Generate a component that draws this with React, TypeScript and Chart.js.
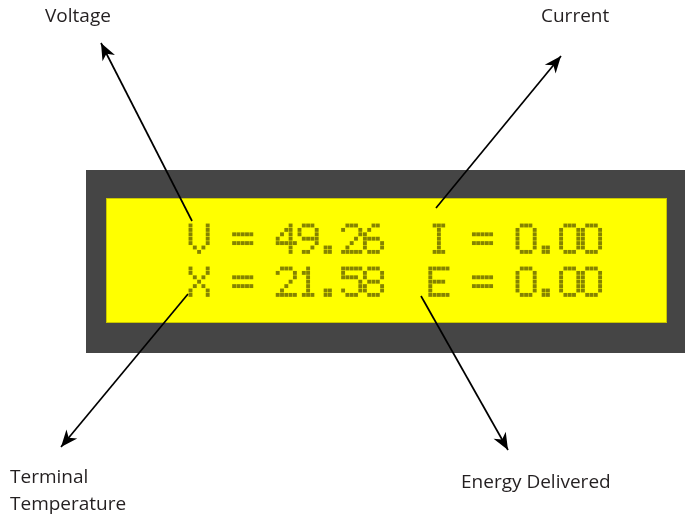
import React, { useEffect, useRef } from "react";
import { Chart, registerables } from "chart.js";

Chart.register(...registerables);

const WIDTH = 685;
const HEIGHT = 519;

// ---- content ----
const lcdLines = ["V = 49.26  I = 0.00", "X = 21.58  E = 0.00"];
const labelLines = [["Voltage"], ["Current"], ["Terminal", "Temperature"], ["Energy Delivered"]];
const labelAnchors = [[45, 22], [541, 22], [10, 483], [461, 488]];
const arrowStarts = [[192, 221], [436, 208], [188, 294], [421, 296]];
const arrowTips = [[101, 43], [561, 56], [61, 447], [508, 450]];
const frameBox = [86, 170, 690, 353];
const screenBox = [106, 198, 667, 323];

// 5x7 dot-matrix glyphs
const GLYPHS: Record<string, string[]> = {
  " ": ["00000", "00000", "00000", "00000", "00000", "00000", "00000"],
  V: ["10001", "10001", "10001", "10001", "10001", "01010", "00100"],
  X: ["10001", "10001", "01010", "00100", "01010", "10001", "10001"],
  I: ["01110", "00100", "00100", "00100", "00100", "00100", "01110"],
  E: ["11111", "10000", "10000", "11110", "10000", "10000", "11111"],
  "=": ["00000", "00000", "11111", "00000", "11111", "00000", "00000"],
  ".": ["00000", "00000", "00000", "00000", "00000", "01100", "01100"],
  "0": ["01110", "10001", "10001", "10001", "10001", "10001", "01110"],
  "1": ["00100", "01100", "00100", "00100", "00100", "00100", "01110"],
  "2": ["01110", "10001", "00001", "00010", "00100", "01000", "11111"],
  "4": ["00010", "00110", "01010", "10010", "11111", "00010", "00010"],
  "5": ["11111", "10000", "11110", "00001", "00001", "10001", "01110"],
  "6": ["00110", "01000", "10000", "11110", "10001", "10001", "01110"],
  "8": ["01110", "10001", "10001", "01110", "10001", "10001", "01110"],
  "9": ["01110", "10001", "10001", "01111", "00001", "00010", "01100"],
};

const LCD_X0 = 190.5;
const LCD_ROW_Y0 = [225.5, 268.5];
const CHAR_ADV = 21.8;
const DOT_PX = 4.3;
const DOT_PY = 4.4;

function lcdDots() {
  const pts: { x: number; y: number }[] = [];
  lcdLines.forEach((line, li) => {
    [...line].forEach((ch, ci) => {
      const g = GLYPHS[ch] || GLYPHS[" "];
      g.forEach((row, r) => {
        [...row].forEach((bit, c) => {
          if (bit === "1") {
            pts.push({ x: LCD_X0 + ci * CHAR_ADV + c * DOT_PX, y: LCD_ROW_Y0[li] + r * DOT_PY });
          }
        });
      });
    });
  });
  return pts;
}

const panelPlugin = {
  id: "panel",
  beforeDatasetsDraw(chart: any) {
    const { ctx, scales } = chart;
    const sx = scales.x, sy = scales.y;
    const rect = (b: number[], fill: string, stroke?: string) => {
      const x1 = sx.getPixelForValue(b[0]);
      const y1 = sy.getPixelForValue(b[1]);
      const x2 = sx.getPixelForValue(b[2]);
      const y2 = sy.getPixelForValue(b[3]);
      ctx.save();
      ctx.fillStyle = fill;
      ctx.fillRect(x1, y1, x2 - x1, y2 - y1);
      if (stroke) {
        ctx.strokeStyle = stroke;
        ctx.lineWidth = 1;
        ctx.strokeRect(x1 + 0.5, y1 + 0.5, x2 - x1 - 1, y2 - y1 - 1);
      }
      ctx.restore();
    };
    rect(frameBox, "#454545");
    rect(screenBox, "#ffff00", "#c9c600");
  },
};

const arrowHeadPlugin = {
  id: "arrowHeads",
  afterDatasetsDraw(chart: any) {
    const { ctx } = chart;
    chart.data.datasets.forEach((ds: any, i: number) => {
      if (!ds.isArrow) return;
      const meta = chart.getDatasetMeta(i);
      const a = meta.data[0], b = meta.data[1];
      const ang = Math.atan2(b.y - a.y, b.x - a.x);
      const len = 17, half = 7, notch = 12;
      const cos = Math.cos(ang), sin = Math.sin(ang);
      const pt = (back: number, side: number) => [
        b.x - back * cos - side * sin,
        b.y - back * sin + side * cos,
      ];
      const l = pt(len, half), n = pt(notch, 0), r = pt(len, -half);
      ctx.save();
      ctx.fillStyle = "#000";
      ctx.beginPath();
      ctx.moveTo(b.x, b.y);
      ctx.lineTo(l[0], l[1]);
      ctx.lineTo(n[0], n[1]);
      ctx.lineTo(r[0], r[1]);
      ctx.closePath();
      ctx.fill();
      ctx.restore();
    });
  },
};

const labelPlugin = {
  id: "labels",
  afterDatasetsDraw(chart: any) {
    const { ctx, scales } = chart;
    ctx.save();
    ctx.fillStyle = "#231f20";
    ctx.font = '19px "Open Sans", sans-serif';
    ctx.textBaseline = "alphabetic";
    ctx.textAlign = "left";
    labelLines.forEach((lines, i) => {
      const x = scales.x.getPixelForValue(labelAnchors[i][0]);
      const y = scales.y.getPixelForValue(labelAnchors[i][1]);
      lines.forEach((t, k) => ctx.fillText(t, x, y + k * 27));
    });
    ctx.restore();
  },
};

export default function App() {
  const ref = useRef<HTMLCanvasElement | null>(null);
  useEffect(() => {
    if (!ref.current) return;
    const arrowSets = arrowStarts.map((s, i) => ({
      type: "line" as const,
      isArrow: true,
      data: [
        { x: s[0], y: s[1] },
        { x: arrowTips[i][0], y: arrowTips[i][1] },
      ],
      borderColor: "#000",
      borderWidth: 1.7,
      pointRadius: 0,
      showLine: true,
      fill: false,
    }));
    const chart = new Chart(ref.current, {
      type: "scatter",
      data: {
        datasets: [
          {
            data: lcdDots(),
            pointStyle: "rect",
            pointRadius: 2.75,
            pointBorderWidth: 0,
            backgroundColor: "#858300",
            borderColor: "#858300",
          } as any,
          ...(arrowSets as any[]),
        ],
      },
      options: {
        animation: false,
        responsive: false,
        devicePixelRatio: 1,
        events: [],
        layout: { padding: 0, autoPadding: false },
        plugins: { legend: { display: false }, tooltip: { enabled: false } },
        scales: {
          x: { type: "linear", min: 0, max: WIDTH, display: false },
          y: { type: "linear", min: 0, max: HEIGHT, reverse: true, display: false },
        },
      },
      plugins: [panelPlugin, arrowHeadPlugin, labelPlugin],
    });
    return () => chart.destroy();
  }, []);
  return (
    <div style={{ position: "fixed", left: 0, top: 0, width: WIDTH, height: HEIGHT, background: "#fff" }}>
      <canvas ref={ref} width={WIDTH} height={HEIGHT} style={{ display: "block" }} />
    </div>
  );
}
